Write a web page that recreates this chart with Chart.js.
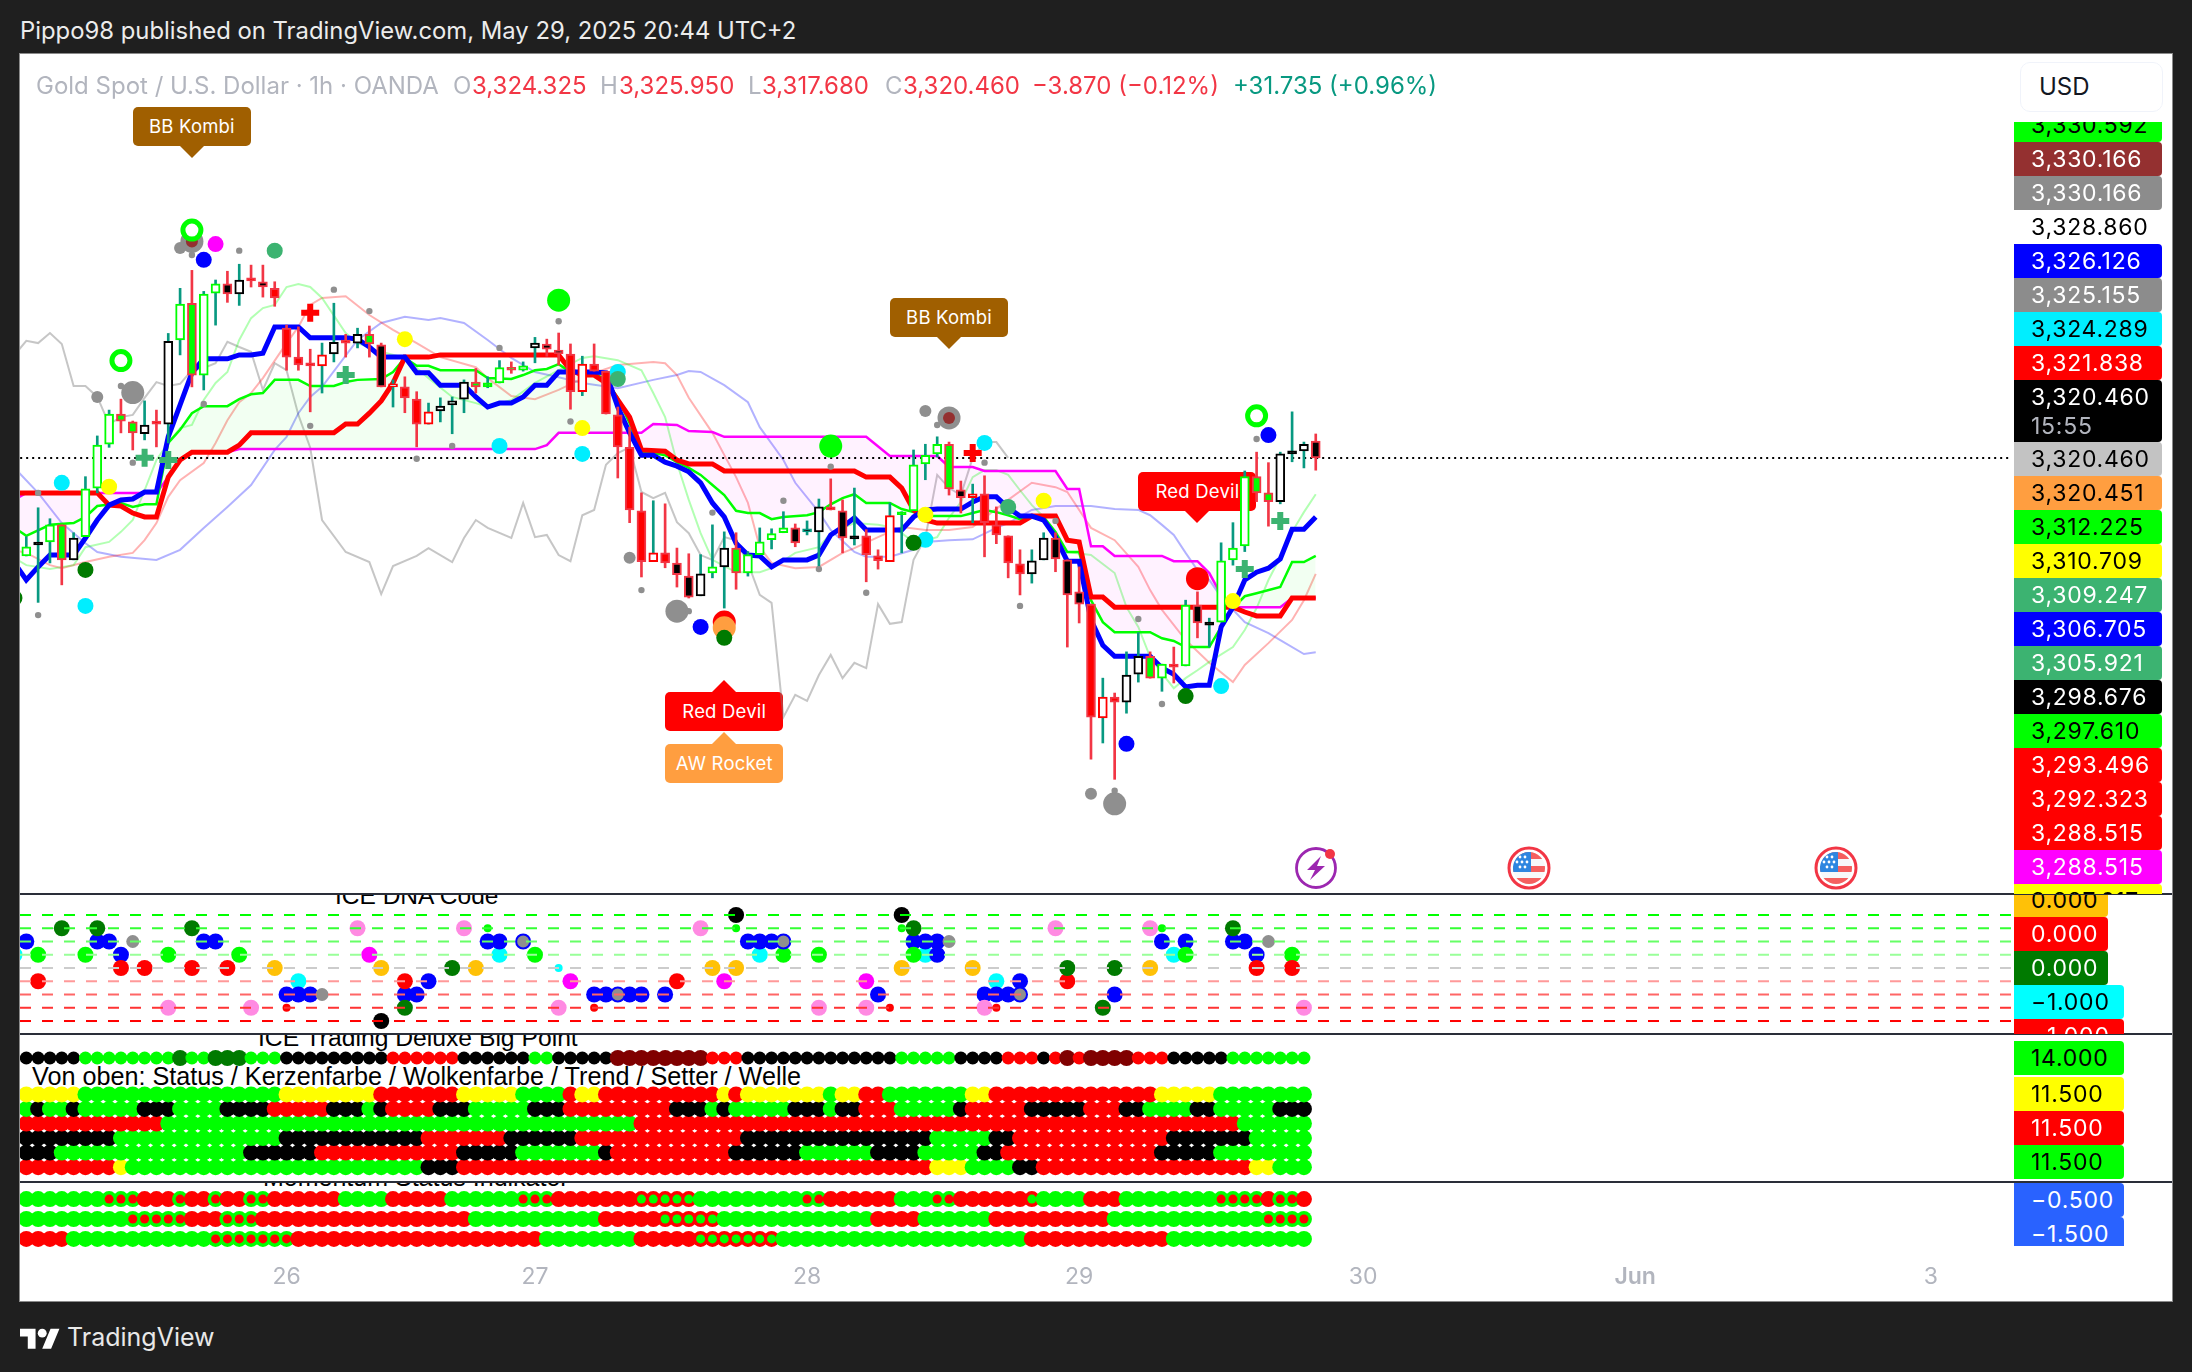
<!DOCTYPE html>
<html>
<head>
<meta charset="utf-8">
<title>Gold Spot / U.S. Dollar</title>
<script src="https://cdn.jsdelivr.net/npm/chart.js@4"></script>
<style>
  html, body { margin: 0; padding: 0; width: 2192px; height: 1372px; background: #1f1f1f; overflow: hidden; font-family: Inter, Roboto, sans-serif; }
  .abs { position: absolute; white-space: nowrap; }
  #sheet { position: absolute; left: 20px; top: 54px; width: 2152px; height: 1247px; background: #fff; box-shadow: 0 0 0 1px #8a8a8a; }
  .pane { position: absolute; left: 20px; width: 2152px; overflow: hidden; }
  .pane canvas { position: absolute; left: 0; top: 0; }
  .study { position: absolute; font-family: "Liberation Sans", Arial, sans-serif; font-size: 25px; color: #000; white-space: nowrap; line-height: 28px; }
  .tag { position: absolute; width: 118px; height: 39px; border-radius: 5px; color: #fff; font-size: 18.5px; line-height: 39px; text-align: center; letter-spacing: .2px; }
  .tag i { position: absolute; left: 50%; margin-left: -12px; width: 0; height: 0; border-left: 12px solid transparent; border-right: 12px solid transparent; }
  .sep { position: absolute; left: 20px; width: 2152px; height: 2px; background: #2a2e39; }
  .col { position: absolute; left: 2014px; overflow: hidden; width: 150px; }
  .plabel { position: absolute; left: 0; box-sizing: border-box; padding-left: 17px; border-radius: 0 4px 4px 0; font-size: 23px; line-height: 34px; letter-spacing: .75px; white-space: nowrap; }
  .legend { font-size: 24px; top: 71px; line-height: 29px; }
</style>
</head>
<body>
<div id="sheet"></div>
<div class="abs" style="left:20px;top:16px;font-size:23.85px;line-height:30px;color:#ececec">Pippo98 published on TradingView.com, May 29, 2025 20:44 UTC+2</div>

<div class="pane" id="mainPane" style="top:54px;height:840px">
  <div id="tags"></div>
  <canvas id="mainChart" width="2152" height="840"></canvas>
</div>
<div class="pane" id="dnaPane" style="top:894px;height:140px">
  <div class="study" style="left:315px;top:-12px;font-size:24.5px">ICE DNA Code</div>
  <canvas id="dnaChart" width="2152" height="140"></canvas>
</div>
<div class="pane" id="deluxePane" style="top:1034px;height:148px">
  <div class="study" style="left:238px;top:-10px;font-size:24.7px">ICE Trading Deluxe Big Point</div>
  <div class="study" style="left:12px;top:28px;font-size:25.2px">Von oben: Status / Kerzenfarbe / Wolkenfarbe / Trend / Setter / Welle</div>
  <canvas id="deluxeChart" width="2152" height="148"></canvas>
</div>
<div class="pane" id="momentumPane" style="top:1182px;height:119px">
  <div class="study" style="left:243px;top:-19px">Momentum Status Indikator</div>
  <canvas id="momentumChart" width="2152" height="119"></canvas>
</div>

<div class="sep" style="top:893px"></div>
<div class="sep" style="top:1033px"></div>
<div class="sep" style="top:1181px"></div>

<div class="abs legend" style="left:36px;color:#b2b5be">Gold Spot / U.S. Dollar · 1h · OANDA</div>
<div class="abs legend" style="left:453px;color:#b2b5be">O</div><div class="abs legend" style="left:472px;color:#f23645">3,324.325</div>
<div class="abs legend" style="left:600px;color:#b2b5be">H</div><div class="abs legend" style="left:619px;color:#f23645">3,325.950</div>
<div class="abs legend" style="left:748px;color:#b2b5be">L</div><div class="abs legend" style="left:762px;color:#f23645">3,317.680</div>
<div class="abs legend" style="left:885px;color:#b2b5be">C</div><div class="abs legend" style="left:903px;color:#f23645">3,320.460</div>
<div class="abs legend" style="left:1032px;color:#f23645">−3.870 (−0.12%)</div>
<div class="abs legend" style="left:1233px;color:#089981">+31.735 (+0.96%)</div>

<div class="abs" style="left:2020px;top:62px;width:143px;height:50px;border:1px solid #f0f3fa;border-radius:10px;background:#fff;box-sizing:border-box;font-size:24px;line-height:48px;padding-left:18px;color:#131722">USD</div>
<div class="col" id="priceCol" style="top:122px;height:772px"></div>
<div class="col" id="dnaCol" style="top:895px;height:139px"></div>
<div class="col" id="deluxeCol" style="top:1035px;height:146px"></div>
<div class="col" id="momentumCol" style="top:1183px;height:63px"></div>

<svg class="abs" style="left:20px;top:1324px" width="40" height="25" viewBox="0 0 36 22"><path fill="#fff" d="M14 22H7V11H0V4h14v18zM28 22h-8l7.5-18h8L28 22z"/><circle fill="#fff" cx="20" cy="8" r="4"/></svg>
<div class="abs" style="left:67px;top:1321px;font-size:25px;line-height:32px;color:#e8e8e8">TradingView</div>

<script>
// candles, bar 0 is the first whole one on the left edge
const opens = [3298.1,3300.6,3301.3,3305.2,3297.2,3302.5,3313.6,3323.6,3330.5,3328.7,
  3326.0,3328.5,3328.2,3347.4,3355.8,3339.4,3358.1,3360.2,3357.9,3361.3,
  3360.7,3359.2,3350.1,3343.5,3341.9,3341.5,3344.2,3347.1,3346.7,3348.7,
  3346.3,3336.7,3336.7,3333.9,3328.2,3331.2,3332.6,3333.9,3337.8,3336.7,
  3337.6,3341.1,3340.5,3345.6,3346.5,3345.1,3344.2,3335.6,3341.9,3340.3,
  3330.3,3322.9,3308.4,3296.8,3298.8,3296.5,3293.5,3289.0,3294.2,3295.6,
  3299.9,3294.2,3298.4,3301.8,3303.4,3304.5,3303.6,3303.6,3309.3,3308.4,
  3302.0,3302.7,3298.1,3296.8,3307.5,3308.4,3319.1,3321.4,3323.6,3313.2,
  3311.4,3312.3,3305.2,3302.7,3296.3,3294.0,3297.2,3302.2,3297.2,3289.9,
  3287.1,3261.1,3265.9,3264.7,3271.1,3275.2,3270.2,3273.4,3273.0,3286.9,
  3282.3,3283.0,3297.2,3300.4,3316.2,3312.5,3310.5,3321.4,3322.1,3324.325];
const highs = [3302.5,3309.1,3306.6,3305.2,3303.4,3316.2,3325.5,3331.4,3333.9,3328.9,
  3333.5,3331.4,3348.9,3359.2,3363.3,3358.5,3361.1,3363.1,3364.7,3364.5,
  3364.5,3360.7,3350.8,3350.4,3345.3,3346.7,3355.8,3348.7,3350.1,3350.6,
  3346.7,3338.3,3339.0,3335.6,3333.0,3334.2,3334.4,3338.3,3340.9,3339.0,
  3342.7,3342.4,3342.4,3348.0,3347.6,3349.0,3346.5,3343.7,3346.5,3340.3,
  3332.1,3327.5,3312.5,3310.7,3310.0,3299.9,3298.6,3298.4,3305.2,3303.6,
  3303.4,3299.1,3304.5,3304.3,3308.2,3305.4,3306.1,3311.1,3315.7,3310.9,
  3313.6,3304.1,3299.5,3310.2,3308.2,3322.3,3323.6,3325.3,3324.1,3315.2,
  3314.5,3316.4,3309.3,3302.7,3299.5,3299.5,3303.4,3303.4,3297.2,3295.6,
  3287.1,3270.2,3266.8,3276.2,3280.6,3276.2,3273.4,3277.3,3288.0,3289.9,
  3283.9,3301.1,3305.7,3317.5,3321.8,3319.4,3321.8,3331.0,3324.1,3325.95];
const lows = [3298.1,3287.5,3296.5,3291.5,3297.2,3302.5,3312.5,3322.9,3326.2,3322.3,
  3324.6,3323.0,3323.9,3344.0,3336.7,3336.0,3350.8,3356.0,3355.3,3359.5,
  3357.2,3355.1,3340.5,3340.5,3331.0,3335.3,3342.4,3343.5,3345.6,3343.5,
  3336.7,3332.1,3330.8,3323.0,3328.2,3328.7,3326.0,3330.8,3335.3,3336.5,
  3337.6,3339.8,3340.3,3342.2,3343.7,3341.7,3331.6,3334.7,3340.3,3330.5,
  3315.9,3305.7,3293.3,3296.8,3295.4,3291.0,3288.5,3289.0,3293.1,3286.2,
  3290.5,3293.5,3298.4,3299.7,3303.4,3300.2,3302.9,3295.6,3308.6,3298.8,
  3300.6,3292.2,3295.1,3296.8,3298.8,3308.4,3315.5,3320.7,3312.0,3307.9,
  3305.7,3297.9,3300.9,3293.1,3289.2,3291.9,3297.2,3294.5,3277.3,3282.8,
  3251.7,3255.4,3247.1,3262.2,3269.3,3270.2,3267.2,3269.1,3273.0,3279.4,
  3277.3,3283.0,3296.0,3299.1,3310.5,3304.9,3310.0,3319.6,3318.2,3317.68];
const closes = [3300.2,3301.1,3305.2,3297.2,3302.2,3313.4,3323.4,3330.5,3328.9,3326.2,
  3328.0,3328.2,3347.1,3355.6,3339.4,3357.9,3360.2,3357.9,3361.1,3360.9,
  3359.5,3357.0,3343.5,3341.7,3341.5,3344.0,3346.9,3346.7,3348.7,3346.5,
  3336.7,3337.2,3334.2,3328.2,3331.0,3332.3,3333.5,3337.8,3336.7,3337.6,
  3341.1,3340.5,3341.5,3346.7,3345.3,3344.3,3335.6,3341.9,3340.3,3330.5,
  3323.0,3308.6,3296.8,3298.8,3296.5,3293.8,3288.7,3294.0,3295.6,3299.9,
  3294.2,3298.4,3301.3,3303.2,3304.5,3301.1,3304.3,3309.3,3308.6,3302.2,
  3302.7,3298.4,3297.0,3307.3,3308.2,3318.9,3321.1,3323.6,3313.4,3311.4,
  3312.3,3305.7,3302.9,3296.5,3294.0,3297.0,3302.2,3297.4,3289.2,3287.1,
  3261.3,3265.9,3264.7,3270.9,3275.2,3270.2,3273.4,3272.7,3286.9,3282.8,
  3282.8,3297.0,3299.9,3316.2,3312.5,3310.5,3321.4,3321.8,3323.6,3320.46];
const candleKinds = ('gKgGkgggGG'+'kRkgGggBkR'+'BRRRRrkRkG'+'BrRRrkkkGf'+'gGgkBBRrRR'+'RRRrRBBkgk'+
  'GggggBtkRB'+'KRRrfgggGB'+'rRRRRkkBBB'+'RrRkkGgRgB'+'KgggGGkKkB').split('');

// indicator lines as [bar, price] at the corners I could read
const blueLine = [[-1,3296.5],[0,3292.6],[1,3295.6],[2,3298.3],[3,3298.3],[4,3298.3],[5,3302.2],[6,3306.3],[7,3309.7],[8,3310.9],
  [9,3311.1],[10,3312.7],[11,3312.7],[12,3325.3],[13,3332.6],[14,3339.9],[15,3343.1],[17,3343.1],[18,3344.0],[19,3344.0],
  [20,3344.4],[21,3350.4],[23,3350.4],[24,3347.9],[27,3347.9],[28,3347.6],[29,3345.8],[30,3343.5],[32,3343.5],[33,3339.9],
  [34,3339.9],[35,3337.1],[37,3337.1],[38,3334.4],[39,3332.1],[40,3333.0],[41,3333.0],[42,3334.4],[43,3337.1],[44,3337.1],
  [45,3340.1],[48,3340.1],[49,3339.9],[50,3332.1],[51,3326.2],[52,3321.1],[53,3321.1],[54,3319.5],[55,3318.6],[56,3317.3],
  [57,3314.8],[58,3310.2],[59,3307.0],[60,3301.0],[61,3298.3],[62,3298.1],[63,3295.6],[64,3297.2],[66,3297.2],[67,3298.3],
  [68,3302.9],[69,3304.7],[70,3306.8],[71,3304.0],[74,3304.0],[75,3307.0],[76,3308.6],[77,3308.8],[79,3308.8],[80,3310.4],
  [81,3311.6],[82,3311.6],[83,3309.1],[84,3307.2],[85,3307.2],[86,3306.3],[87,3302.4],[88,3296.9],[89,3296.9],[90,3283.5],
  [91,3277.7],[92,3275.2],[95,3275.2],[96,3272.5],[97,3271.1],[98,3268.2],[99,3268.6],[100,3268.6],[101,3281.9],[102,3286.4],
  [103,3292.6],[104,3294.4],[105,3295.3],[106,3297.4],[107,3304.2],[108,3304.2],[109,3307.0]];
const redLine = [[-1,3312.5],[6,3312.5],[7,3309.7],[8,3309.5],[9,3307.9],[10,3307.0],[11,3307.0],[12,3316.1],[13,3320.0],[14,3321.8],
  [17,3321.8],[18,3323.4],[19,3326.2],[26,3326.2],[27,3328.2],[28,3328.2],[29,3330.7],[30,3333.5],[31,3337.6],[32,3343.5],
  [34,3343.5],[35,3344.0],[45,3344.0],[46,3340.5],[47,3339.4],[48,3339.4],[49,3337.6],[50,3333.7],[51,3329.8],[52,3322.3],
  [54,3322.0],[55,3320.0],[56,3319.1],[58,3319.1],[59,3317.5],[70,3317.5],[71,3316.1],[73,3316.1],[74,3313.6],[75,3308.6],
  [76,3306.3],[77,3305.6],[84,3305.6],[85,3307.2],[87,3307.2],[88,3301.7],[89,3301.3],[90,3288.7],[91,3288.7],[92,3286.4],
  [102,3286.4],[103,3285.3],[104,3284.4],[106,3284.4],[107,3288.5],[109,3288.5]];
const greenLine = [[-1,3304.5],[0,3302.7],[2,3305.2],[4,3305.6],[5,3307.0],[6,3309.5],[8,3310.2],[9,3309.3],[10,3309.9],[11,3309.9],
  [12,3323.9],[13,3326.9],[14,3330.7],[15,3332.3],[17,3332.3],[18,3333.9],[19,3335.0],[20,3335.3],[21,3338.3],[23,3338.3],
  [24,3336.9],[26,3336.9],[27,3337.8],[28,3338.3],[30,3338.5],[31,3340.1],[32,3343.3],[33,3341.5],[34,3341.5],[35,3340.5],
  [38,3340.5],[39,3338.7],[41,3338.5],[42,3339.4],[43,3340.5],[44,3340.8],[45,3341.9],[46,3340.1],[48,3339.9],[49,3338.3],
  [50,3334.2],[51,3328.4],[52,3321.6],[53,3321.6],[54,3321.1],[55,3319.5],[56,3318.2],[57,3316.6],[58,3314.3],[59,3312.0],
  [60,3308.4],[61,3307.9],[62,3307.9],[63,3306.5],[64,3307.0],[66,3307.4],[67,3308.1],[68,3309.9],[69,3311.3],[70,3312.2],
  [71,3310.2],[73,3310.2],[74,3308.8],[75,3308.1],[76,3307.2],[79,3307.2],[80,3307.9],[81,3308.6],[82,3308.1],[83,3307.4],
  [84,3306.5],[85,3307.2],[86,3307.0],[87,3303.6],[88,3299.0],[89,3299.0],[90,3288.0],[91,3283.0],[92,3280.7],[95,3280.7],
  [96,3279.3],[97,3278.7],[98,3277.3],[100,3277.3],[101,3281.9],[102,3286.2],[103,3288.9],[104,3289.6],[106,3291.0],[107,3296.7],
  [108,3296.7],[109,3298.1]];
const magentaLine = [[-1,3310.9],[0,3312.5],[11,3312.5],[12,3316.1],[13,3320.0],[14,3321.8],[17,3321.8],[18,3322.5],[43,3322.5],[44,3323.4],
  [45,3326.2],[52,3326.2],[53,3328.2],[55,3328.0],[56,3326.6],[58,3326.4],[59,3325.3],[71,3325.3],[73,3320.9],[77,3320.9],
  [78,3318.4],[80,3318.4],[81,3317.5],[87,3317.5],[88,3313.4],[89,3313.4],[90,3300.3],[91,3300.3],[92,3298.1],[96,3298.1],
  [97,3296.9],[99,3296.9],[100,3294.2],[101,3289.2],[102,3286.4],[106,3286.4],[107,3288.5],[109,3288.5]];
const laggingLine = [[-1,3344.0],[0,3347.2],[1,3346.7],[2,3349.0],[3,3346.5],[4,3336.9],[5,3336.9],[6,3334.4],[7,3328.2],[8,3329.8],
  [9,3330.3],[10,3334.2],[11,3337.8],[12,3336.9],[13,3337.4],[14,3340.5],[15,3341.0],[16,3342.1],[17,3347.0],[18,3345.8],
  [19,3344.7],[20,3336.0],[21,3342.1],[22,3340.5],[23,3330.3],[24,3322.8],[25,3306.3],[27,3299.0],[29,3296.7],[30,3289.4],
  [31,3295.8],[33,3298.1],[34,3299.9],[36,3296.7],[37,3302.2],[38,3306.3],[39,3304.5],[41,3302.2],[42,3310.2],[43,3302.4],
  [44,3302.9],[45,3298.3],[46,3296.9],[47,3307.4],[48,3308.6],[49,3318.9],[50,3321.6],[51,3322.9],[52,3312.7],[53,3311.3],
  [54,3312.5],[55,3305.8],[56,3303.3],[57,3298.3],[58,3297.2],[59,3302.4],[60,3301.7],[61,3296.5],[62,3289.2],[63,3287.4],
  [64,3261.3],[65,3266.4],[66,3265.0],[67,3270.9],[68,3275.5],[69,3270.2],[70,3273.7],[71,3272.5],[72,3287.1],[73,3282.6],
  [74,3283.0],[75,3297.2],[76,3302.2],[77,3316.6],[78,3313.6],[79,3312.0],[80,3320.5],[81,3324.1],[82,3324.1],[83,3320.5]];
const bandGreen = [[-1,3297.6],[0,3296.0],[2,3295.1],[4,3296.0],[5,3300.1],[7,3301.3],[8,3303.6],[9,3306.3],[10,3313.1],[11,3320.0],
  [12,3323.9],[13,3327.3],[14,3328.0],[15,3333.7],[16,3337.6],[17,3340.1],[18,3347.4],[19,3352.4],[20,3354.7],[21,3355.4],
  [22,3359.5],[23,3360.2],[24,3359.5],[25,3357.0],[27,3349.0],[28,3346.7],[30,3344.7],[32,3343.3],[34,3338.7],[36,3334.4],
  [38,3333.0],[39,3332.1],[41,3333.7],[43,3337.6],[45,3340.5],[47,3343.3],[48,3343.7],[50,3342.8],[52,3340.5],[53,3335.3],
  [54,3329.8],[55,3319.3],[56,3310.9],[57,3303.3],[58,3297.2],[60,3294.4],[62,3294.4],[63,3295.3],[65,3298.8],[67,3300.1],
  [68,3303.3],[70,3305.6],[72,3305.2],[73,3304.7],[74,3303.3],[75,3301.3],[76,3301.7],[77,3302.4],[78,3306.8],[79,3310.4],
  [80,3316.1],[81,3317.7],[82,3317.7],[83,3316.6],[84,3313.1],[85,3309.7],[86,3307.0],[87,3301.7],[88,3299.0],[90,3298.3],
  [92,3294.2],[93,3286.4],[94,3281.9],[95,3275.0],[96,3271.3],[97,3267.9],[98,3270.2],[99,3272.0],[100,3273.9],[102,3277.3],
  [103,3281.2],[104,3286.2],[105,3292.6],[106,3297.8],[107,3303.6],[108,3308.1],[109,3312.2]];
const bandRed = [[-1,3299.4],[0,3298.8],[2,3296.0],[3,3295.3],[5,3296.7],[7,3297.9],[9,3298.8],[10,3301.7],[11,3305.6],[12,3311.6],
  [13,3315.4],[15,3319.3],[16,3323.9],[17,3329.1],[18,3333.2],[19,3335.3],[20,3338.7],[22,3346.7],[23,3350.4],[24,3355.4],
  [25,3357.0],[27,3357.4],[29,3353.1],[31,3349.7],[33,3346.7],[35,3343.5],[38,3341.2],[39,3338.7],[41,3334.6],[43,3333.9],
  [45,3336.0],[48,3339.9],[50,3341.7],[53,3342.4],[54,3342.1],[55,3339.4],[56,3334.2],[58,3326.2],[60,3316.1],[61,3310.2],
  [62,3300.1],[63,3296.5],[65,3295.3],[67,3295.6],[69,3298.8],[70,3299.9],[72,3302.4],[73,3303.6],[74,3304.7],[76,3304.0],
  [78,3304.0],[80,3304.7],[81,3306.8],[83,3310.9],[85,3314.8],[87,3313.8],[88,3312.7],[90,3304.5],[92,3301.7],[94,3295.6],
  [95,3290.3],[96,3285.8],[98,3278.9],[100,3273.7],[102,3269.3],[103,3273.2],[105,3278.2],[107,3283.5],[108,3288.0],[109,3294.0]];
const bandBlue = [[-1,3318.2],[1,3312.5],[3,3305.6],[5,3301.0],[6,3299.0],[8,3297.9],[11,3297.2],[13,3299.5],[15,3304.5],[17,3309.3],
  [19,3314.3],[21,3322.3],[22,3325.3],[23,3330.7],[24,3334.4],[25,3336.7],[28,3347.4],[30,3351.3],[32,3352.7],[34,3352.0],
  [35,3352.4],[37,3351.3],[39,3347.4],[41,3343.3],[43,3340.1],[45,3338.9],[47,3337.6],[50,3336.4],[53,3338.3],[55,3339.4],
  [56,3340.3],[57,3340.1],[59,3337.1],[61,3333.2],[62,3327.5],[64,3320.0],[65,3314.8],[67,3308.1],[68,3304.0],[70,3299.0],
  [71,3297.9],[73,3297.9],[75,3299.5],[76,3301.3],[78,3301.7],[80,3301.9],[82,3304.5],[83,3305.6],[85,3308.6],[87,3309.5],
  [90,3309.5],[92,3308.8],[94,3308.6],[95,3307.4],[96,3305.2],[97,3302.9],[98,3298.8],[99,3294.9],[100,3292.6],[101,3288.7],
  [103,3283.0],[105,3280.5],[106,3278.9],[108,3275.7],[109,3276.1]];

// markers on the price pane, [bar, price]
const smallGrey = [[1,3312.5],[1,3284.6],[8,3336.9],[9,3319.4],[14,3366.8],[15,3332.8],[18,3367.8],[24,3327.8],[26,3358.9],[29,3354.0],
  [33,3320.3],[36,3323.2],[40,3345.6],[45,3351.7],[46,3328.8],[52,3290.3],[56,3285.5],[58,3308.0],[64,3310.7],[67,3295.1],
  [68,3318.5],[71,3289.7],[77,3328.0],[81,3319.4],[84,3286.7],[87,3306.1],[92,3244.5],[94,3283.7],[96,3264.3],[104,3324.8]];
const midGrey = [[6,3334.4],[13,3368.4],[51,3297.7],[76,3331.2],[90,3243.8]];
const largeGrey = [[9,3335.4],[14,3369.9],[55,3285.5],[78,3329.6],[92,3241.5]];
const darkRedDots = [[14,3369.9],[78,3329.6]];
const cyanDots = [[3,3314.8],[5,3286.7],[40,3323.2],[47,3321.4],[50,3340.1],[76,3301.8],[81,3323.9],[101,3268.4]];
const yellowDots = [[7,3313.9],[32,3347.6],[47,3327.3],[76,3307.5],[86,3310.7],[102,3287.8]];
const seaGreenDots = [[21,3367.8],[50,3338.5],[83,3309.3]];
const darkGreenDots = [[-1,3288.5],[5,3294.9],[59,3279.4],[75,3301.1],[98,3266.1]];
const blueDots = [[15,3365.7],[57,3281.9],[93,3255.2],[105,3325.7]];
const magentaDots = [[16,3369.3]];
const bigGreenDots = [[45,3356.5],[68,3323.2]];
const bigRedDots = [[59,3283.0],[99,3292.9]];
const orangeDots = [[59,3281.7]];
const ringMarks = [[8,3342.7],[14,3372.5],[104,3330.1]];
const greenCrosses = [[10,3320.5],[12,3320.0],[27,3339.4],[103,3295.1],[106,3306.1]];
const redCrosses = [[24,3353.6],[80,3321.6]];
const lastPrice = 3320.46;

// named signal boxes on the chart
const tagTexts = ['BB Kombi', 'BB Kombi', 'Red Devil', 'Red Devil', 'AW Rocket'];
const tagBars = [14, 78, 99, 59, 59];
const tagPrices = [3388.9, 3345.3, 3305.6, 3269.8, 3257.9];
const tagColors = ['#a05f00', '#a05f00', '#ff0000', '#ff0000', '#ff9e40'];
const tagBelow = [false, false, false, true, true];

// ICE DNA Code dots, [bar, level]
const dnaLevels = [4, 3, 2, 1, 0, -1, -2, -3, -4];
const dnaLevelColors = ['#00ff00', '#33ff33', '#66ff66', '#99ff99', '#cccccc', '#ff9999', '#ff6666', '#ff3333', '#ff0000'];
const dnaBlue = [[0,2],[6,2],[7,2],[8,1],[15,2],[16,2],[22,-2],[23,-2],[24,-2],[32,-2],[33,-2],[34,-1],[39,2],[40,2],[48,-2],[49,-2],[51,-2],[52,-2],[54,-2],
  [61,2],[62,2],[63,2],[72,-2],[75,2],[76,2],[77,2],[77,1],[81,-2],[82,-2],[83,-2],[84,-1],[92,-2],[96,2],[98,2],[102,2],[103,2],[104,1]];
const dnaBlueRing = [[42,2],[50,-2],[64,2],[84,-2]];
const dnaGrey = [[9,2],[25,-2],[78,2],[105,2]];
const dnaGreen = [[1,1],[5,1],[12,1],[18,1],[43,1],[64,1],[67,1],[75,1],[98,1],[107,1]];
const dnaSmallGreen = [[39,3],[60,3],[74,3],[96,3]];
const dnaDarkGreen = [[3,3],[6,3],[14,3],[32,-3],[36,0],[75,3],[88,0],[91,-3],[92,0],[102,3]];
const dnaRed = [[1,-1],[8,0],[10,0],[14,0],[17,0],[32,-1],[55,-1],[88,-1],[104,0],[107,0]];
const dnaSmallRed = [[22,-3],[48,-3],[73,-3],[82,-3]];
const dnaCyan = [[-1,1],[23,-1],[40,1],[62,1],[76,1],[82,-1],[97,1]];
const dnaSmallCyan = [[45,0]];
const dnaOrange = [[21,0],[30,0],[38,0],[58,0],[60,0],[74,0],[80,0],[95,0]];
const dnaPink = [[12,-3],[19,-3],[28,3],[37,3],[45,-3],[57,3],[67,-3],[71,-3],[81,-3],[87,3],[95,3],[108,-3]];
const dnaMagenta = [[29,1],[46,-1],[59,-1],[71,-1]];
const dnaBlack = [[30,-4],[60,4],[74,4]];

// dot rows as runs of colour code + how many bars
const bigPointRuns = ['k',5,'g',8,'d',1,'g',2,'d',3,'g',3,'k',9,'r',6,'k',6,'g',2,'k',5,'m',8,'r',3,'k',13,'g',5,'k',4,'r',3,'k',1,'r',1,'m',1,'r',1,'m',4,'r',3,'k',5,'g',7];
const statusRuns = ['y',5,'g',17,'y',8,'r',7,'y',5,'g',4,'r',1,'y',2,'r',10,'y',1,'r',1,'y',7,'g',1,'y',2,'r',2,'g',7,'y',2,'r',14,'y',5,'g',8];
const candleColorRuns = ['g',1,'k',1,'g',2,'k',1,'g',5,'k',3,'g',4,'k',4,'r',5,'k',3,'g',1,'k',1,'r',4,'k',3,'g',5,'k',3,'r',9,'k',3,'g',1,'k',1,'g',5,'k',3,'g',1,'k',2,'r',3,'g',5,'k',1,'r',5,'k',5,'r',3,'k',2,'g',4,'k',2,'g',5,'k',3];
const cloudColorRuns = ['r',12,'g',40,'r',51,'g',6];
const trendRuns = ['k',8,'g',14,'k',12,'r',7,'k',6,'r',14,'k',16,'g',5,'k',2,'r',13,'k',7,'g',5];
const setterRuns = ['k',3,'g',16,'k',6,'r',12,'k',5,'g',7,'k',1,'r',10,'k',6,'g',6,'k',4,'g',5,'k',2,'r',13,'k',5,'g',8];
const waveRuns = ['r',8,'y',1,'g',25,'k',3,'r',40,'y',3,'g',4,'k',2,'r',18,'y',2,'g',3];
const deluxeRowLevels = [11.5, 10.5, 9.5, 8.5, 7.5, 6.5];
const momentumRuns1 = ['g',7,'a',3,'r',3,'a',1,'r',2,'a',1,'r',2,'a',2,'r',6,'g',4,'r',5,'g',6,'a',3,'r',7,'b',5,'g',9,'a',2,'r',6,'g',3,'a',2,'r',6,'b',1,'g',4,'r',3,'g',8,'a',4,'r',1,'a',2,'r',1];
const momentumRuns2 = ['g',9,'a',5,'r',3,'a',3,'r',18,'g',11,'r',5,'b',5,'g',13,'r',4,'g',6,'r',10,'g',13,'a',4];
const momentumRuns3 = ['r',4,'g',12,'a',7,'r',21,'g',8,'r',5,'b',7,'g',21,'r',12,'g',12];
const momentumRowLevels = [-0.5, -1.5, -2.5];

// time axis
const timeTickBars = [22, 43, 66, 89, 113, 136, 161];
const timeTickLabels = ['26', '27', '28', '29', '30', 'Jun', '3'];

// price column, top to bottom
const priceTexts = ['3,330.592','3,330.166','3,330.166','3,328.860','3,326.126','3,325.155','3,324.289','3,321.838','3,320.460','3,320.460','3,320.451',
  '3,312.225','3,310.709','3,309.247','3,306.705','3,305.921','3,298.676','3,297.610','3,293.496','3,292.323','3,288.515','3,288.515','3,287.617'];
const priceBacks = ['#00ff00','#943030','#8c8c8c','#ffffff','#0000ff','#8c8c8c','#00eeff','#ff0000','#000000','#c3c3c3','#ff9e40',
  '#00ff00','#ffff00','#3cb371','#0000ff','#3cb371','#000000','#00ff00','#ff0000','#ff0000','#ff0000','#ff00ff','#ffff00'];
const priceInks = ['#000','#fff','#fff','#000','#fff','#fff','#000','#fff','#fff','#000','#000','#000','#000','#fff','#fff','#fff','#fff','#000','#fff','#fff','#fff','#fff','#000'];
const dnaTexts = ['0.000','0.000','0.000','−1.000','−1.000'];
const dnaBacks = ['#ffc107','#ff0000','#007a00','#00ffff','#ff0000'];
const dnaInks = ['#000','#fff','#fff','#000','#fff'];
const deluxeTexts = ['14.000','11.500','11.500','11.500'];
const deluxeBacks = ['#00ff00','#ffff00','#ff0000','#00ff00'];
const deluxeInks = ['#000','#000','#fff','#000'];
const momentumTexts = ['−0.500','−1.500'];

const colorCodes = { g: '#00ff00', r: '#ff0000', y: '#ffff00', k: '#000000', d: '#007a00', m: '#800000', a: '#00ff00', b: '#ff0000' };
const insideCodes = { a: '#ff0000', b: '#00ff00' };
const up = '#089981', down = '#f23645';
const candleFill = { g: '#fff', k: '#fff', r: '#fff', R: '#ff0000', B: '#000', G: '#00ff00', f: '#00ff00', K: '#000', t: '#000' };
const candleEdge = { g: '#00ff00', k: '#000', r: '#ff0000', R: down, B: down, G: down, f: '#00ff00', K: '#000', t: up };
const candleWick = { g: up, k: up, r: up, R: down, B: down, G: down, f: up, K: up, t: up };

// same bar spacing in all panes
const xMin = -0.5325, xMax = 181.38;
const axisEnd = 167.8;

function toPoints(pairs) {
    return pairs.map(p => ({ x: p[0], y: p[1] }));
}

function expandRuns(runs) {
    const out = [];
    for (let k = 0; k < runs.length; k += 2) {
        for (let n = 0; n < runs[k + 1]; n++) out.push(runs[k]);
    }
    return out;
}

function lineSet(pairs, color, width, order, extra) {
    return Object.assign({ type: 'line', data: toPoints(pairs), borderColor: color, borderWidth: width, pointRadius: 0, tension: 0, fill: false, order: order }, extra);
}

function dotSet(pairs, color, radius, order, extra) {
    return Object.assign({ type: 'scatter', data: toPoints(pairs), backgroundColor: color, borderColor: color, borderWidth: 0, pointRadius: radius, pointHoverRadius: radius, order: order }, extra);
}

function hiddenX() {
    return { type: 'linear', min: xMin, max: xMax, offset: false, display: false, grid: { display: false } };
}

function hiddenY(min, max) {
    return { type: 'linear', min: min, max: max, display: false, grid: { display: false } };
}

function baseOptions(scales) {
    return {
        responsive: false,
        animation: false,
        events: [],
        layout: { padding: 0, autoPadding: false },
        plugins: { legend: { display: false }, tooltip: { enabled: false } },
        scales: scales
    };
}

const mainData = {
    datasets: [
        lineSet(laggingLine, 'rgba(128,128,128,.45)', 2, 20),
        lineSet(bandBlue, 'rgba(0,0,255,.3)', 2, 19),
        lineSet(bandRed, 'rgba(255,0,0,.3)', 2, 18),
        lineSet(bandGreen, 'rgba(0,255,0,.3)', 2, 17),
        lineSet(magentaLine, '#ff00ff', 2.5, 16),
        lineSet(greenLine, '#00ff00', 2.5, 15, { fill: { target: 4, above: 'rgba(0,255,0,.05)', below: 'rgba(255,0,255,.05)' } }),
        lineSet(redLine, '#ff0000', 5, 14),
        lineSet(blueLine, '#0000ff', 5, 13),
        lineSet([[xMin - 1, lastPrice], [axisEnd, lastPrice]], '#000', 2, 12, { borderDash: [2, 4] }),
        {
            type: 'bar',
            data: lows.map((v, i) => ({ x: i, y: [v, highs[i]] })),
            backgroundColor: candleKinds.map(c => candleWick[c]),
            barThickness: 2,
            order: 11
        },
        {
            type: 'bar',
            data: opens.map((v, i) => ({ x: i, y: [v, closes[i]] })),
            backgroundColor: candleKinds.map(c => candleFill[c]),
            borderColor: candleKinds.map(c => candleEdge[c]),
            borderWidth: 2,
            borderSkipped: false,
            barThickness: 9,
            minBarLength: 3,
            order: 10
        },
        dotSet(smallGrey, '#8f8f8f', 3.2, 9),
        dotSet(midGrey, '#8f8f8f', 6, 9),
        dotSet(largeGrey, '#8f8f8f', 11.5, 9),
        dotSet(darkRedDots, '#943030', 6, 8),
        dotSet(cyanDots, '#00eeff', 8, 8),
        dotSet(bigRedDots, '#ff0000', 11.5, 8),
        dotSet(orangeDots, '#ff9e40', 11.5, 7),
        dotSet(seaGreenDots, '#3cb371', 8, 7),
        dotSet(darkGreenDots, '#007a00', 8, 6),
        dotSet(blueDots, '#0000ff', 8, 8),
        dotSet(magentaDots, '#ff00ff', 8, 8),
        dotSet(yellowDots, '#ffff00', 8, 8),
        dotSet(bigGreenDots, '#00ff00', 11.5, 8),
        dotSet(ringMarks, '#ffffff', 9, 5, { borderColor: '#00ff00', borderWidth: 5 }),
        dotSet(greenCrosses, '#3cb371', 9, 5, { pointStyle: 'cross', borderWidth: 6 }),
        dotSet(redCrosses, '#ff0000', 9, 5, { pointStyle: 'cross', borderWidth: 6 })
    ]
};
const mainOptions = baseOptions({ x: hiddenX(), y: hiddenY(3220.92, 3412.70) });
mainOptions.plugins.filler = { drawTime: 'beforeDatasetDraw' };
mainOptions.datasets = { bar: { grouped: false } };
const mainChart = new Chart(document.getElementById('mainChart'), { type: 'bar', data: mainData, options: mainOptions });

const dnaSets = [
    dotSet(dnaBlue, '#0000ff', 8, 5),
    dotSet(dnaCyan, '#00ffff', 8, 6),
    dotSet(dnaSmallCyan, '#00ffff', 4, 3),
    dotSet(dnaRed, '#ff0000', 8, 4),
    dotSet(dnaSmallRed, '#ff0000', 4, 3),
    dotSet(dnaGreen, '#00ff00', 8, 4),
    dotSet(dnaSmallGreen, '#00ff00', 4, 3),
    dotSet(dnaDarkGreen, '#007a00', 8, 3),
    dotSet(dnaOrange, '#ffc107', 8, 4),
    dotSet(dnaPink, '#ff8ae2', 8, 4),
    dotSet(dnaMagenta, '#ff00ff', 8, 4),
    dotSet(dnaBlack, '#000000', 8, 3),
    dotSet(dnaGrey, '#8f8f8f', 6.5, 3),
    dotSet(dnaBlueRing, '#8f8f8f', 7, 3, { borderColor: '#0000ff', borderWidth: 2 })
];
dnaLevels.forEach((lvl, k) => {
    dnaSets.push(lineSet([[xMin, lvl], [axisEnd, lvl]], dnaLevelColors[k], 2, 1, { borderDash: [11, 11] }));
});
new Chart(document.getElementById('dnaChart'), {
    type: 'scatter',
    data: { datasets: dnaSets },
    options: baseOptions({ x: hiddenX(), y: hiddenY(-4.98, 5.585) })
});

function rowSet(runs, level, radius, order) {
    const codes = expandRuns(runs);
    return {
        type: 'scatter',
        data: codes.map((c, i) => ({ x: i, y: level })),
        backgroundColor: codes.map(c => colorCodes[c]),
        borderWidth: 0,
        pointRadius: radius,
        pointHoverRadius: radius,
        order: order
    };
}

function insideSet(runs, level) {
    const codes = expandRuns(runs);
    const points = [], colors = [];
    codes.forEach((c, i) => {
        if (insideCodes[c]) {
            points.push({ x: i, y: level });
            colors.push(insideCodes[c]);
        }
    });
    return { type: 'scatter', data: points, backgroundColor: colors, borderWidth: 0, pointRadius: 4.5, order: 1 };
}

const deluxeSets = [rowSet(bigPointRuns, 14, expandRuns(bigPointRuns).map(c => (c === 'd' || c === 'm') ? 8 : 6.5), 3)];
[statusRuns, candleColorRuns, cloudColorRuns, trendRuns, setterRuns, waveRuns].forEach((runs, k) => {
    deluxeSets.push(rowSet(runs, deluxeRowLevels[k], 8, 3));
});
new Chart(document.getElementById('deluxeChart'), {
    type: 'scatter',
    data: { datasets: deluxeSets },
    options: baseOptions({ x: hiddenX(), y: hiddenY(5.48, 15.65) })
});

const momentumSets = [];
[momentumRuns1, momentumRuns2, momentumRuns3].forEach((runs, k) => {
    momentumSets.push(rowSet(runs, momentumRowLevels[k], 8, 3));
    momentumSets.push(insideSet(runs, momentumRowLevels[k]));
});
const momentumX = {
    type: 'linear', min: xMin, max: xMax, offset: false,
    grid: { display: false, drawTicks: false },
    border: { display: false },
    afterBuildTicks: scale => { scale.ticks = timeTickBars.map(v => ({ value: v })); },
    afterFit: scale => { scale.height = 51; },
    ticks: {
        autoSkip: false,
        maxRotation: 0,
        padding: 13,
        color: '#b2b5be',
        font: ctx => ({ family: 'Inter', size: 23, weight: ctx.index === 5 ? '600' : '400' }),
        callback: (v, k) => timeTickLabels[k]
    }
};
new Chart(document.getElementById('momentumChart'), {
    type: 'scatter',
    data: { datasets: momentumSets },
    options: baseOptions({ x: momentumX, y: hiddenY(-3.056, 0.359) })
});

// tags sit behind the canvas so the candles stay on top
function renderTags() {
    const holder = document.getElementById('tags');
    const xs = mainChart.scales.x, ys = mainChart.scales.y;
    tagTexts.forEach((text, k) => {
        const tag = document.createElement('div');
        const tipX = xs.getPixelForValue(tagBars[k]);
        const tipY = ys.getPixelForValue(tagPrices[k]);
        tag.className = 'tag';
        tag.textContent = text;
        tag.style.background = tagColors[k];
        tag.style.left = (tipX - 59) + 'px';
        tag.style.top = (tagBelow[k] ? tipY + 12 : tipY - 51) + 'px';
        const arrow = document.createElement('i');
        if (tagBelow[k]) {
            arrow.style.top = '-12px';
            arrow.style.borderBottom = '12px solid ' + tagColors[k];
        } else {
            arrow.style.bottom = '-12px';
            arrow.style.borderTop = '12px solid ' + tagColors[k];
        }
        tag.appendChild(arrow);
        holder.appendChild(tag);
    });
}

function renderEvents() {
    const xs = mainChart.scales.x;
    const flag = `<svg width="44" height="44" viewBox="0 0 44 44"><defs><clipPath id="CID"><circle cx="22" cy="22" r="16"/></clipPath></defs>
      <circle cx="22" cy="22" r="20" fill="#fff" stroke="#f23645" stroke-width="3"/>
      <g clip-path="url(#CID)"><rect x="6" y="6" width="32" height="32" fill="#f7f8fa"/>
      <rect x="6" y="6" width="32" height="7" fill="#f55f5f"/><rect x="6" y="20" width="32" height="6" fill="#f55f5f"/><rect x="6" y="32" width="32" height="6" fill="#f55f5f"/>
      <rect x="6" y="6" width="18" height="20" fill="#2e86e0"/><g fill="#fff"><circle cx="13" cy="11" r="1.4"/><circle cx="18" cy="11" r="1.4"/><circle cx="10" cy="16" r="1.4"/><circle cx="15" cy="16" r="1.4"/><circle cx="20" cy="16" r="1.4"/><circle cx="13" cy="21" r="1.4"/><circle cx="18" cy="21" r="1.4"/></g></g></svg>`;
    const bolt = `<svg width="44" height="44" viewBox="0 0 44 44"><circle cx="22" cy="22" r="19.5" fill="#fff" stroke="#9c27b0" stroke-width="2.8"/>
      <path d="M27 10 L13 24 H21 L16 34 L31 20 H23 Z" fill="#9c27b0"/><circle cx="36" cy="8" r="5" fill="#f23645"/></svg>`;
    [[109, bolt], [127, flag.replace(/CID/g, 'c1')], [153, flag.replace(/CID/g, 'c2')]].forEach(ev => {
        const box = document.createElement('div');
        box.style.position = 'absolute';
        box.style.left = (xs.getPixelForValue(ev[0]) - 22) + 'px';
        box.style.top = '792px';
        box.innerHTML = ev[1];
        document.getElementById('mainPane').appendChild(box);
    });
}

function addLabel(holder, text, back, ink, top, width, height) {
    const el = document.createElement('div');
    el.className = 'plabel';
    el.style.background = back;
    el.style.color = ink;
    el.style.top = top + 'px';
    el.style.width = width + 'px';
    el.style.height = height + 'px';
    el.textContent = text;
    holder.appendChild(el);
    return el;
}

function renderPriceColumn() {
    const col = document.getElementById('priceCol');
    let top = -14;
    priceTexts.forEach((text, k) => {
        const tall = k === 8;
        const el = addLabel(col, text, priceBacks[k], priceInks[k], top, 148, tall ? 62 : 34);
        if (tall) {
            const sub = document.createElement('div');
            sub.textContent = '15:55';
            sub.style.color = '#b2b5be';
            sub.style.lineHeight = '24px';
            el.appendChild(sub);
        }
        top += tall ? 62 : 34;
    });
    const dnaCol = document.getElementById('dnaCol');
    dnaTexts.forEach((text, k) => {
        addLabel(dnaCol, text, dnaBacks[k], dnaInks[k], -12 + k * 34, k < 3 ? 94 : 110, 34);
    });
    const deluxeCol = document.getElementById('deluxeCol');
    deluxeTexts.forEach((text, k) => {
        addLabel(deluxeCol, text, deluxeBacks[k], deluxeInks[k], k === 0 ? 6 : 8 + k * 34, 110, 34);
    });
    const momentumCol = document.getElementById('momentumCol');
    momentumTexts.forEach((text, k) => {
        addLabel(momentumCol, text, '#2962ff', '#fff', k * 34, 110, 34);
    });
}

renderTags();
renderEvents();
renderPriceColumn();
</script>
</body>
</html>
